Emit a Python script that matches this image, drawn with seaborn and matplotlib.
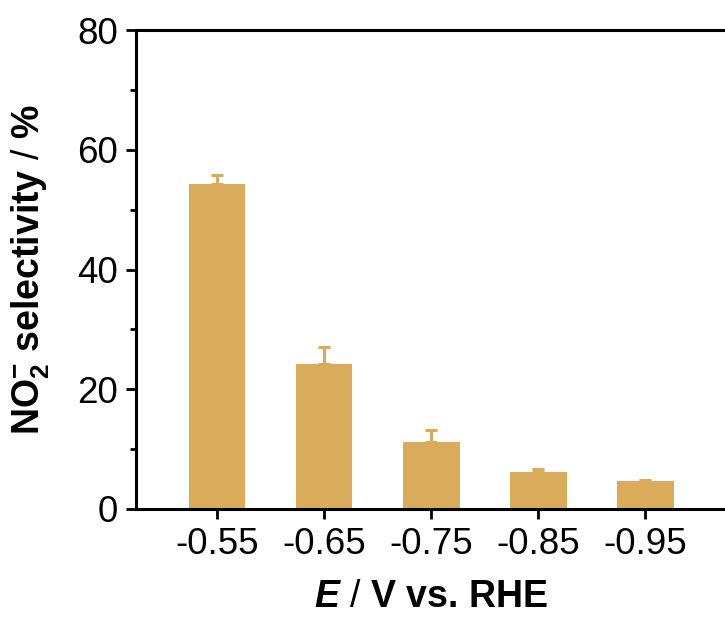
import matplotlib
matplotlib.use("Agg")
import matplotlib.pyplot as plt
from matplotlib.ticker import MultipleLocator
import seaborn as sns
import pandas as pd

# Potentials and NO2- selectivity (%) with upper error
potentials = ["-0.55", "-0.65", "-0.75", "-0.85", "-0.95"]
selectivity = [54.2, 24.3, 11.2, 6.1, 4.6]
error_up = [1.6, 2.7, 2.0, 0.5, 0.3]

bar_color = "#D9AB5B"

sns.set_theme(style="ticks")
plt.rcParams["font.family"] = ["Liberation Sans", "DejaVu Sans"]
plt.rcParams["text.color"] = "black"
plt.rcParams["axes.labelcolor"] = "black"
plt.rcParams["mathtext.fontset"] = "custom"
plt.rcParams["mathtext.rm"] = "Liberation Sans"
plt.rcParams["mathtext.bf"] = "Liberation Sans:bold"
plt.rcParams["mathtext.it"] = "Liberation Sans:italic"
plt.rcParams["mathtext.bfit"] = "Liberation Sans:bold:italic"

df = pd.DataFrame({"E": potentials, "sel": selectivity})

fig = plt.figure(figsize=(7.25, 6.19), dpi=100)
ax = fig.add_axes([136 / 725, 110 / 619, 595 / 725, 479 / 619])

sns.barplot(data=df, x="E", y="sel", color=bar_color, saturation=1,
            width=0.53, errorbar=None, ax=ax, zorder=2, linewidth=0)
ax.errorbar(range(len(potentials)), selectivity,
            yerr=[[0] * len(error_up), error_up], fmt="none",
            ecolor=bar_color, elinewidth=2.2, capsize=4.5, capthick=2.2,
            zorder=1)

ax.set_xlim(-0.757, 4.8)
ax.set_ylim(0, 80)
ax.yaxis.set_major_locator(MultipleLocator(20))
ax.yaxis.set_minor_locator(MultipleLocator(10))

for side in ["left", "bottom", "top"]:
    ax.spines[side].set_linewidth(2.2)
    ax.spines[side].set_color("black")
ax.spines["right"].set_visible(False)

ax.tick_params(axis="both", which="major", direction="out", length=7,
               width=2.0, labelsize=26.5, color="black", labelcolor="black",
               pad=6)
ax.tick_params(axis="y", which="minor", direction="out", length=4,
               width=2.0, color="black")
ax.tick_params(axis="x", which="minor", bottom=False)

ax.set_xlabel(r"$\boldsymbol{E}$ $\mathrm{/}$ V vs. RHE", fontsize=27,
              fontweight="bold", color="black")
ax.set_ylabel(r"NO$_\mathbf{2}^{\mathbf{-}}$ selectivity $\mathrm{/}$ %",
              fontsize=27, fontweight="bold", color="black")
ax.xaxis.label.set_verticalalignment("center")
ax.xaxis.set_label_coords((431 - 136) / 595, -(597 - 509) / 479)
ax.yaxis.set_label_coords(-(136 - 31) / 595, (509 - 270) / 479)
ax.yaxis.label.set_verticalalignment("center")

fig.savefig("out.png", dpi=100)
